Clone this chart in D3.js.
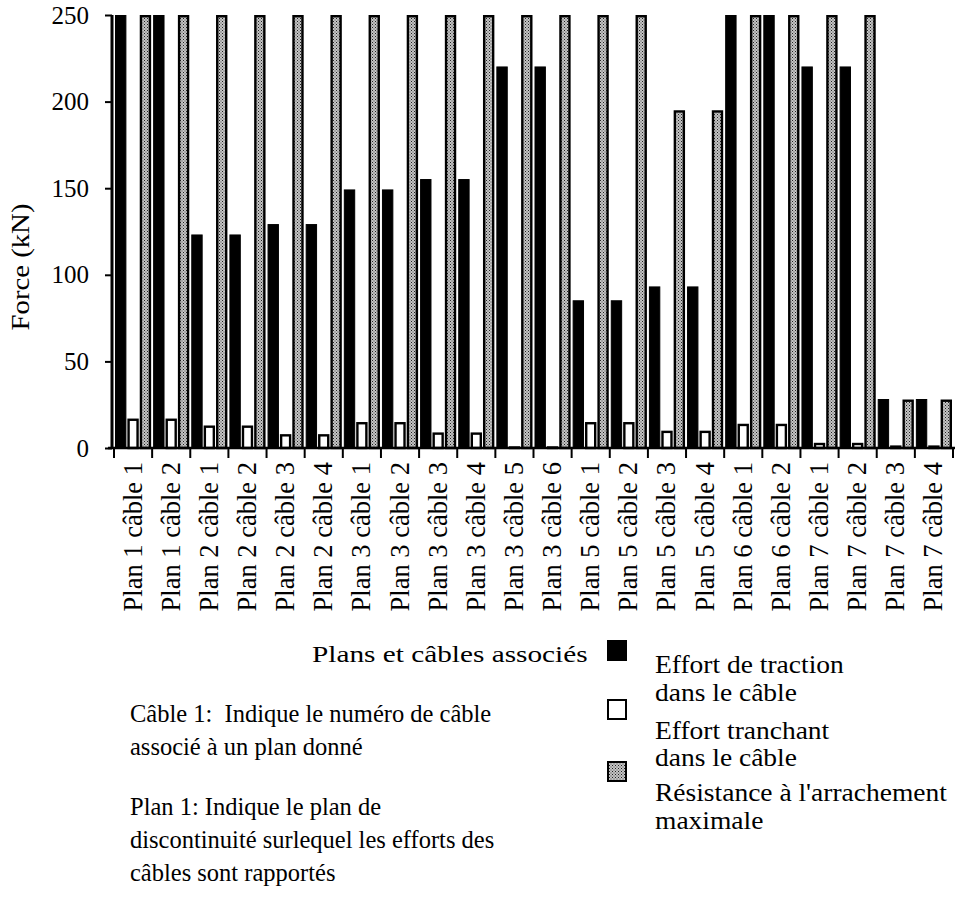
<!DOCTYPE html>
<html>
<head>
<meta charset="utf-8">
<script src="https://cdn.jsdelivr.net/npm/d3@7"></script>
<style>
  html, body { margin: 0; padding: 0; background: #fff; }
  svg { display: block; }
  text { font-family: "Liberation Serif", "Times New Roman", Times, serif; fill: #000; white-space: pre; }
</style>
</head>
<body>
<svg id="chart" width="964" height="906"></svg>
<script>
// ---------- data ----------
const categories = [
  "Plan 1 câble 1", "Plan 1 câble 2", "Plan 2 câble 1", "Plan 2 câble 2",
  "Plan 2 câble 3", "Plan 2 câble 4", "Plan 3 câble 1", "Plan 3 câble 2",
  "Plan 3 câble 3", "Plan 3 câble 4", "Plan 3 câble 5", "Plan 3 câble 6",
  "Plan 5 câble 1", "Plan 5 câble 2", "Plan 5 câble 3", "Plan 5 câble 4",
  "Plan 6 câble 1", "Plan 6 câble 2", "Plan 7 câble 1", "Plan 7 câble 2",
  "Plan 7 câble 3", "Plan 7 câble 4"
];
// values above 250 are cut off by the axis top in the original
const tractionValues = [250, 250, 123, 123, 129, 129, 149, 149, 155, 155, 220, 220,
                        85, 85, 93, 93, 250, 250, 220, 220, 28, 28];
const tranchantValues = [17, 17, 13, 13, 8, 8, 15, 15, 9, 9, 1, 1,
                         15, 15, 10, 10, 14, 14, 3, 3, 1.5, 1.5];
const resistanceValues = [250, 250, 250, 250, 250, 250, 250, 250, 250, 250, 250, 250,
                          250, 250, 195, 195, 250, 250, 250, 250, 28, 28];
const seriesNames = ["Effort de traction dans le câble",
                     "Effort tranchant dans le câble",
                     "Résistance à l'arrachement maximale"];
const yTicks = [0, 50, 100, 150, 200, 250];
const yLabel = "Force (kN)";
const xLabel = "Plans et câbles associés";
const noteLines1 = ["Câble 1:  Indique le numéro de câble", "associé à un plan donné"];
const noteLines2 = ["Plan 1: Indique le plan de", "discontinuité surlequel les efforts des", "câbles sont rapportés"];
const legendLines = [["Effort de traction", "dans le câble"],
                     ["Effort tranchant", "dans le câble"],
                     ["Résistance à l'arrachement", "maximale"]];

// ---------- drawing ----------
const svg = d3.select("#chart");
const defs = svg.append("defs");
const pat = defs.append("pattern").attr("id", "stipple")
  .attr("width", 3).attr("height", 3).attr("patternUnits", "userSpaceOnUse");
pat.append("rect").attr("width", 3).attr("height", 3).attr("fill", "#c4c4c4");
pat.append("rect").attr("x", 0).attr("y", 0).attr("width", 1).attr("height", 1).attr("fill", "#222");
pat.append("rect").attr("x", 1.5).attr("y", 1.5).attr("width", 1).attr("height", 1).attr("fill", "#444");

const plot = { left: 114, right: 953, top: 15, bottom: 448 };

const x = d3.scaleBand().domain(categories).range([plot.left, plot.right]).padding(0);
const sub = d3.scaleBand().domain([0, 1, 2]).range([1, x.bandwidth() - 1]).paddingInner(0.08);
const y = d3.scaleLinear().domain([0, 250]).range([plot.bottom, plot.top]).clamp(true);

defs.append("clipPath").attr("id", "plotclip").append("rect")
  .attr("x", plot.left - 5).attr("y", plot.top).attr("width", plot.right - plot.left + 10)
  .attr("height", plot.bottom - plot.top + 2);

const rows = categories.map((c, i) => ({
  cat: c, vals: [tractionValues[i], tranchantValues[i], resistanceValues[i]]
}));

const bars = svg.append("g").attr("clip-path", "url(#plotclip)");
const styles = [
  { fill: "#000", stroke: "#000", sw: 1 },
  { fill: "#fff", stroke: "#000", sw: 2.4 },
  { fill: "url(#stipple)", stroke: "#000", sw: 2.4 }
];
rows.forEach(r => {
  r.vals.forEach((v, s) => {
    const st = styles[s];
    const x0 = x(r.cat) + sub(s);
    const w = sub.bandwidth();
    const y0 = y(v);
    bars.append("rect")
      .attr("x", x0 + st.sw / 2).attr("y", y0 + (s === 0 ? 0 : st.sw / 2))
      .attr("width", w - st.sw).attr("height", Math.max(0, plot.bottom - y0 - (s === 0 ? 0 : st.sw / 2)))
      .attr("fill", st.fill).attr("stroke", st.stroke).attr("stroke-width", st.sw);
  });
});

// y axis
const yAxis = svg.append("g").attr("transform", `translate(${plot.left - 2},0)`)
  .call(d3.axisLeft(y).tickValues(yTicks).tickSize(7).tickPadding(16).tickFormat(d3.format("d")));
yAxis.select(".domain").attr("stroke", "#000").attr("stroke-width", 3)
  .attr("d", `M0,${plot.top}V${plot.bottom}`);
yAxis.selectAll(".tick line").attr("stroke", "#000").attr("stroke-width", 2);
yAxis.selectAll(".tick text").attr("font-size", 25).attr("font-family", "Liberation Serif");

// x axis
const xAxis = svg.append("g").attr("transform", `translate(0,${plot.bottom})`);
xAxis.append("line").attr("x1", plot.left - 6).attr("x2", plot.right + 2)
  .attr("y1", 0).attr("y2", 0).attr("stroke", "#000").attr("stroke-width", 2.5);
const boundaries = categories.map(c => x(c)).concat([x(categories[categories.length - 1]) + x.bandwidth()]);
xAxis.selectAll("line.b").data(boundaries).join("line").attr("class", "b")
  .attr("x1", d => d).attr("x2", d => d).attr("y1", 0).attr("y2", 10)
  .attr("stroke", "#000").attr("stroke-width", 2);
xAxis.selectAll("text.cat").data(categories).join("text").attr("class", "cat")
  .attr("transform", d => `translate(${x(d) + x.bandwidth() / 2 + 8.5},14) rotate(-90)`)
  .attr("text-anchor", "end").attr("font-size", 26.5).text(d => d);

// y label
svg.append("text").attr("transform", "translate(29,267) rotate(-90) scale(1.15,1)")
  .attr("text-anchor", "middle").attr("font-size", 25).text(yLabel);

// x label
svg.append("text").attr("transform", "translate(312,662) scale(1.22,1)")
  .attr("font-size", 24).text(xLabel);

// notes
const noteSize = 24.5;
noteLines1.forEach((t, i) => svg.append("text").attr("x", 130).attr("y", 722 + i * 33).attr("font-size", noteSize).text(t));
noteLines2.forEach((t, i) => svg.append("text").attr("x", 130).attr("y", 815 + i * 33).attr("font-size", noteSize).text(t));

// legend
const legendY = [641, 700, 762];
const legendBase = [[673, 701], [739, 766], [801, 829]];
const lg = svg.append("g");
legendY.forEach((ly, i) => {
  const st = styles[i];
  lg.append("rect").attr("x", 608).attr("y", ly).attr("width", 18).attr("height", 19)
    .attr("fill", st.fill).attr("stroke", "#000").attr("stroke-width", 2);
  legendLines[i].forEach((t, j) => lg.append("text")
    .attr("transform", `translate(655,${legendBase[i][j]}) scale(1.1,1)`)
    .attr("font-size", 25).text(t));
});
</script>
</body>
</html>
